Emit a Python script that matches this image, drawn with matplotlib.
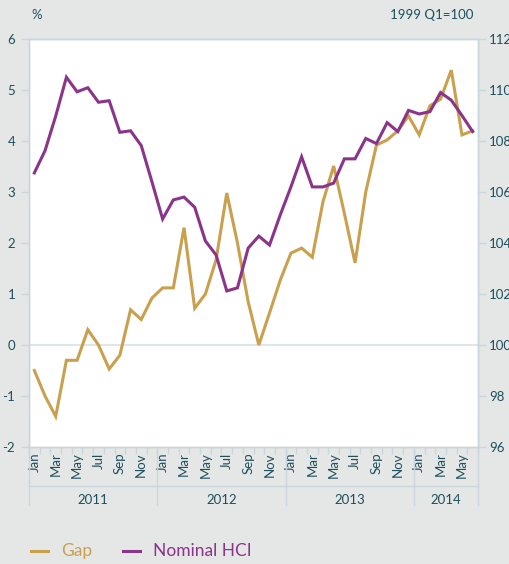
import matplotlib
matplotlib.use("Agg")
import matplotlib.pyplot as plt
import matplotlib.transforms as mtransforms
import numpy as np

plt.rcParams['font.family'] = ['Lato', 'DejaVu Sans']

months = ['Jan', 'Feb', 'Mar', 'Apr', 'May', 'Jun', 'Jul', 'Aug', 'Sep', 'Oct', 'Nov', 'Dec']
years = ['2011', '2012', '2013', '2014']
months_per_year = [12, 12, 12, 6]

gap = [-0.5, -1.0, -1.4, -0.3, -0.3, 0.3, 0.0, -0.47, -0.2, 0.69, 0.5, 0.92,
       1.12, 1.12, 2.3, 0.72, 1.0, 1.67, 2.98, 2.0, 0.85, 0.0, 0.63, 1.27,
       1.8, 1.9, 1.72, 2.81, 3.51, 2.58, 1.61, 3.0, 3.92, 4.02, 4.2, 4.49,
       4.12, 4.69, 4.82, 5.39, 4.12, 4.2]
hci = [106.75, 107.62, 108.98, 110.5, 109.93, 110.09, 109.52, 109.58, 108.34, 108.4, 107.82, 106.4,
       104.94, 105.69, 105.8, 105.4, 104.08, 103.53, 102.12, 102.24, 103.8, 104.27, 103.92, 105.1,
       106.2, 107.38, 106.2, 106.2, 106.35, 107.3, 107.3, 108.1, 107.9, 108.72, 108.37, 109.2,
       109.06, 109.15, 109.9, 109.6, 109.0, 108.37]

left_ticks = [-2, -1, 0, 1, 2, 3, 4, 5, 6]
right_ticks = [96, 98, 100, 102, 104, 106, 108, 110, 112]

BG = '#e5e7e7'
TXT = '#1d4f5c'
GOLD = '#c9a04e'
PURPLE = '#8a348a'
LINE = '#c9d6db'
FS = 9.5

W, H = 509, 564
fig = plt.figure(figsize=(W/100, H/100), dpi=100, facecolor=BG)
ax = fig.add_axes([29/W, 1-447/H, (478-29)/W, (447-39)/H])
ax.set_facecolor('white')
ax2 = ax.twinx()

n = len(gap)
x = np.arange(n)
ax.plot(x, gap, color=GOLD, lw=2.2, solid_joinstyle='miter', zorder=3)
ax2.plot(x, hci, color=PURPLE, lw=2.2, solid_joinstyle='miter', zorder=3)

ax.set_xlim(-0.5, n - 0.5)
ax.set_ylim(-2, 6)
ax2.set_ylim(96, 112)
ax.axhline(0, color='#d8e2e5', lw=1.2, zorder=1)

for a in (ax, ax2):
    for s in a.spines.values():
        s.set_color(LINE)
        s.set_linewidth(1.0)

ax.set_yticks(left_ticks)
ax.set_yticklabels([str(v) for v in left_ticks])
ax2.set_yticks(right_ticks)
ax2.set_yticklabels([str(v) for v in right_ticks])
ax.tick_params(axis='y', length=6, width=1, color=LINE, labelcolor=TXT, labelsize=FS, pad=4)
ax2.tick_params(axis='y', length=6, width=1, color=LINE, labelcolor=TXT, labelsize=FS, pad=2)

# month labels
labels = []
for ny in months_per_year:
    labels += months[:ny]
major = [i for i in range(n) if i % 2 == 0]
ax.set_xticks(major)
ax.set_xticklabels([labels[i] for i in major], rotation=90, va='top', ha='center')
ax.set_xticks(np.arange(n + 1) - 0.5, minor=True)
ax.tick_params(axis='x', which='major', length=0, labelcolor=TXT, labelsize=FS, pad=4)
ax.tick_params(axis='x', which='minor', length=5, width=1, color=LINE)

# year axis
trans = mtransforms.blended_transform_factory(ax.transData, ax.transAxes)
ph = 447 - 39
y_line = -(485.5 - 447) / ph
y_sep = -(505 - 447) / ph
y_lab = -(500 - 447) / ph
ax.plot([-0.5, n - 0.5], [y_line, y_line], transform=trans, color=LINE, lw=1, clip_on=False)
start = 0
for yr, ny in zip(years, months_per_year):
    ax.plot([start - 0.5, start - 0.5], [0, y_sep], transform=trans, color=LINE, lw=1, clip_on=False)
    ax.text(start - 0.5 + ny / 2, y_lab, yr, transform=trans, ha='center', va='center',
            color=TXT, fontsize=FS)
    start += ny
ax.plot([n - 0.5, n - 0.5], [0, y_sep], transform=trans, color=LINE, lw=1, clip_on=False)

fig.text(37/W, 1-15/H, '%', color=TXT, fontsize=FS, ha='center', va='center')
fig.text(473/W, 1-15/H, '1999 Q1=100', color=TXT, fontsize=FS, ha='right', va='center')

# legend
ly = 1 - 551/H
fig.add_artist(plt.Line2D([31/W, 48/W], [ly, ly], color=GOLD, lw=2.2))
fig.text(61/W, ly, 'Gap', color=GOLD, fontsize=12.5, ha='left', va='center')
fig.add_artist(plt.Line2D([123/W, 140/W], [ly, ly], color=PURPLE, lw=2.2))
fig.text(153/W, ly, 'Nominal HCI', color=PURPLE, fontsize=12.5, ha='left', va='center')

fig.savefig('out.png', dpi=100, facecolor=BG)
